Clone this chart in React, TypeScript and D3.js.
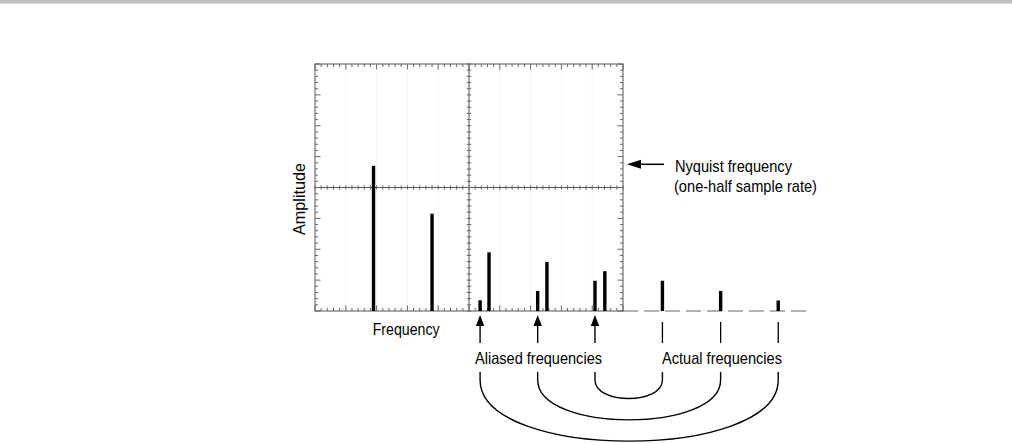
import * as d3 from "d3";

// frequencies in screen divisions (Nyquist = 10), amplitude in divisions (0..8)
const inBandFreq = [1.9, 3.8, 5.65, 7.53, 9.41];
const inBandAmp = [4.7, 3.15, 1.9, 1.59, 1.29];
const aliasedFreq = [5.36, 7.23, 9.09];
const aliasedAmp = [0.35, 0.65, 0.98];
const actualFreq = [15.04, 13.17, 11.28];
const actualAmp = [0.34, 0.65, 0.98];

const xDivs = 10;
const yDivs = 8;
const minorPerDiv = 5;

const W = 1012;
const H = 443;
const FONT = "'Liberation Sans Narrow', 'Liberation Sans', Arial, sans-serif";

export default function App() {
  // plot frame
  const left = 315, right = 623, top = 64, bottom = 311;
  const x = d3.scaleLinear().domain([0, xDivs]).range([left, right]);
  const y = d3.scaleLinear().domain([0, yDivs]).range([bottom, top]);
  const midX = x(xDivs / 2);
  const midY = y(yDivs / 2);

  const frame = "#555";
  const tickCol = "#666";

  const xMinor = d3.range(0, xDivs * minorPerDiv + 1).map((i) => i / minorPerDiv);
  const yMinor = d3.range(0, yDivs * minorPerDiv + 1).map((i) => i / minorPerDiv);
  const isMajor = (v: number) => Math.abs(v - Math.round(v)) < 1e-6;

  const barW = 3.4;
  const arrowTop = 315;
  const arrowBottom = 343;
  const arcY = 372;

  return (
    <svg
      width={W}
      height={H}
      style={{ position: "absolute", left: 0, top: 0, display: "block", background: "#fff" }}
      fontFamily={FONT}
    >
      <rect x={0} y={0} width={W} height={3.7} fill="#c0c0c0" />

      {/* faint grid */}
      {d3.range(1, xDivs).map((d) => (
        <line key={"gx" + d} x1={x(d)} x2={x(d)} y1={top} y2={bottom} stroke="#f7f7f7" strokeWidth={1} />
      ))}

      {/* frame */}
      <rect x={left} y={top} width={right - left} height={bottom - top} fill="none" stroke={frame} strokeWidth={1} />
      <line x1={midX} x2={midX} y1={top} y2={bottom} stroke={frame} strokeWidth={1} />
      <line x1={left} x2={right} y1={midY} y2={midY} stroke={frame} strokeWidth={1} />

      {/* ticks along top/bottom edges and horizontal centre line */}
      {xMinor.map((v, i) => {
        const len = isMajor(v) ? 5.5 : 3;
        const px = x(v);
        return (
          <g key={"xt" + i} stroke={tickCol} strokeWidth={1}>
            <line x1={px} x2={px} y1={top} y2={top + len} />
            <line x1={px} x2={px} y1={bottom} y2={bottom - len} />
            <line x1={px} x2={px} y1={midY - 2.2} y2={midY + 2.2} />
          </g>
        );
      })}
      {/* ticks along left/right edges and vertical centre line */}
      {yMinor.map((v, i) => {
        const len = isMajor(v) ? 5.5 : 3;
        const py = y(v);
        return (
          <g key={"yt" + i} stroke={tickCol} strokeWidth={1}>
            <line x1={left} x2={left + len} y1={py} y2={py} />
            <line x1={right} x2={right - len} y1={py} y2={py} />
            <line x1={midX - 2.2} x2={midX + 2.2} y1={py} y2={py} />
          </g>
        );
      })}

      {/* dashed extension of baseline beyond Nyquist */}
      <line x1={right} x2={806} y1={bottom} y2={bottom} stroke={tickCol} strokeWidth={1} strokeDasharray="15,6" />

      {/* spectral lines */}
      {inBandFreq.map((f, i) => (
        <rect key={"b" + i} x={x(f) - barW / 2} y={y(inBandAmp[i])} width={barW} height={bottom - y(inBandAmp[i])} fill="#000" />
      ))}
      {aliasedFreq.map((f, i) => (
        <rect key={"a" + i} x={x(f) - barW / 2} y={y(aliasedAmp[i])} width={barW} height={bottom - y(aliasedAmp[i])} fill="#000" />
      ))}
      {actualFreq.map((f, i) => (
        <rect key={"r" + i} x={x(f) - barW / 2} y={y(actualAmp[i])} width={barW} height={bottom - y(actualAmp[i])} fill="#000" />
      ))}

      {/* arrows under aliased lines */}
      {aliasedFreq.map((f, i) => {
        const px = x(f);
        return (
          <g key={"ar" + i}>
            <line x1={px} x2={px} y1={arrowTop + 8} y2={arrowBottom} stroke="#000" strokeWidth={1.4} />
            <path d={`M${px},${arrowTop} L${px - 4.2},${arrowTop + 11} L${px + 4.2},${arrowTop + 11} Z`} fill="#000" />
          </g>
        );
      })}
      {/* markers under actual lines */}
      {actualFreq.map((f, i) => (
        <line key={"am" + i} x1={x(f)} x2={x(f)} y1={322} y2={arrowBottom} stroke="#000" strokeWidth={1.3} />
      ))}

      {/* arcs linking aliased and actual frequencies */}
      {aliasedFreq.map((f, i) => {
        const x1 = x(f);
        const x2 = x(actualFreq[i]);
        const span = x2 - x1;
        const depth = 14 + 0.185 * span;
        const s = 8;
        const yc = arcY + s + (depth - s) / 0.75;
        const d = `M${x1},${arcY} L${x1},${arcY + s} C${x1},${yc} ${x2},${yc} ${x2},${arcY + s} L${x2},${arcY}`;
        return <path key={"arc" + i} d={d} fill="none" stroke="#000" strokeWidth={1.4} />;
      })}

      {/* Nyquist marker */}
      <line x1={638} x2={664} y1={164.3} y2={164.3} stroke="#000" strokeWidth={1.5} />
      <path d="M627,164.3 L641,159.8 L641,168.8 Z" fill="#000" />

      {/* text */}
      <g fill="#000" fontSize={17}>
        <text x={675} y={172} textLength={117} lengthAdjust="spacingAndGlyphs">Nyquist frequency</text>
        <text x={674} y={192} textLength={143} lengthAdjust="spacingAndGlyphs">(one-half sample rate)</text>
        <text x={372.7} y={335} textLength={67} lengthAdjust="spacingAndGlyphs">Frequency</text>
        <text x={475} y={364} textLength={127} lengthAdjust="spacingAndGlyphs">Aliased frequencies</text>
        <text x={662} y={364} textLength={120} lengthAdjust="spacingAndGlyphs">Actual frequencies</text>
        <text
          transform={`translate(305,235) rotate(-90)`}
          x={0}
          y={0}
          textLength={72}
          lengthAdjust="spacingAndGlyphs"
        >
          Amplitude
        </text>
      </g>
    </svg>
  );
}
